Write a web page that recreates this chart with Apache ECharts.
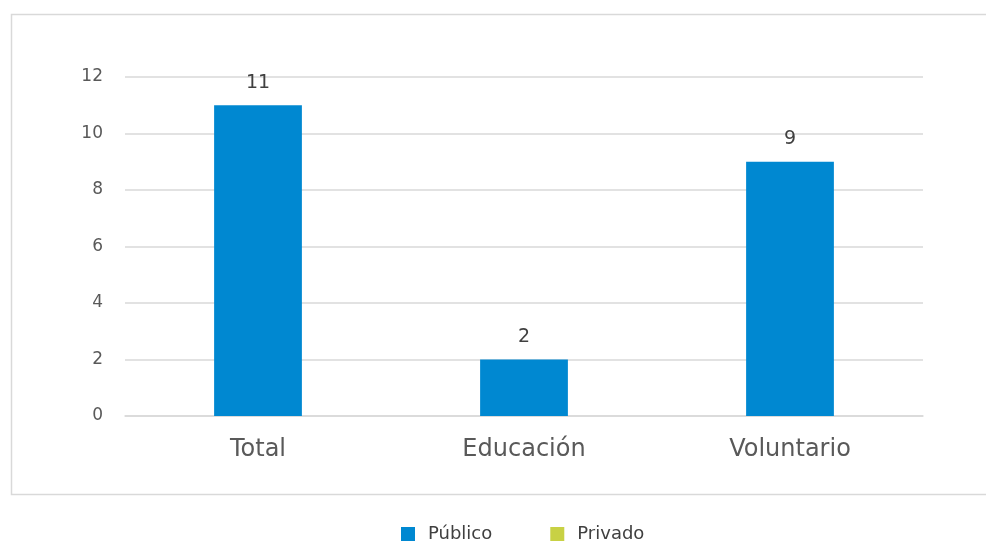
<!DOCTYPE html>
<html>
<head>
<meta charset="utf-8">
<script src="https://cdn.jsdelivr.net/npm/echarts@6/dist/echarts.min.js"></script>
<style>
  html, body { margin: 0; padding: 0; background: #fff; }
  #chart { width: 986px; height: 542px; }
</style>
</head>
<body>
<div id="chart"></div>
<script>
const categories = ['Total', 'Educación', 'Voluntario'];
const publicoValues = [11, 2, 9];
const privadoValues = [0, 0, 0];
const yTicks = [0, 2, 4, 6, 8, 10, 12];

const fontFamily = '"DejaVu Sans", "Noto Sans", sans-serif';

const chart = echarts.init(document.getElementById('chart'));

const option = {
  animation: false,
  textStyle: { fontFamily },
  graphic: [
    {
      type: 'rect',
      left: 9,
      top: 12,
      shape: { width: 990, height: 480 },
      style: { fill: 'none', stroke: '#d9d9d9', lineWidth: 1.5 },
      silent: true,
    },
  ],
  grid: {
    left: 125,
    right: 63,
    top: 77,
    bottom: 126,
  },
  legend: {
    top: 520,
    left: 396,
    itemWidth: 14,
    itemHeight: 14,
    itemGap: 58,
    icon: 'rect',
    textStyle: { fontSize: 18, color: '#404040', fontFamily, padding: [0, 0, 0, 8] },
    data: ['Público', 'Privado'],
  },
  xAxis: {
    type: 'category',
    data: categories,
    axisLine: { show: true, lineStyle: { color: '#d9d9d9', width: 1.5 } },
    axisTick: { show: false },
    axisLabel: {
      fontSize: 24,
      color: '#595959',
      margin: 22,
      fontFamily,
    },
  },
  yAxis: {
    type: 'value',
    min: yTicks[0],
    max: yTicks[yTicks.length - 1],
    interval: 2,
    axisLine: { show: false },
    axisTick: { show: false },
    splitLine: { lineStyle: { color: '#d9d9d9', width: 1.5 } },
    axisLabel: {
      fontSize: 17,
      color: '#595959',
      margin: 22,
      fontFamily,
    },
  },
  series: [
    {
      name: 'Público',
      type: 'bar',
      stack: 'total',
      data: publicoValues,
      barWidth: '33%',
      itemStyle: { color: '#0088d1' },
      label: {
        show: true,
        position: 'top',
        distance: 13,
        fontSize: 19,
        color: '#404040',
        fontFamily,
      },
    },
    {
      name: 'Privado',
      type: 'bar',
      stack: 'total',
      data: privadoValues,
      barWidth: '33%',
      itemStyle: { color: '#c8d144' },
    },
  ],
};

chart.setOption(option);
</script>
</body>
</html>
